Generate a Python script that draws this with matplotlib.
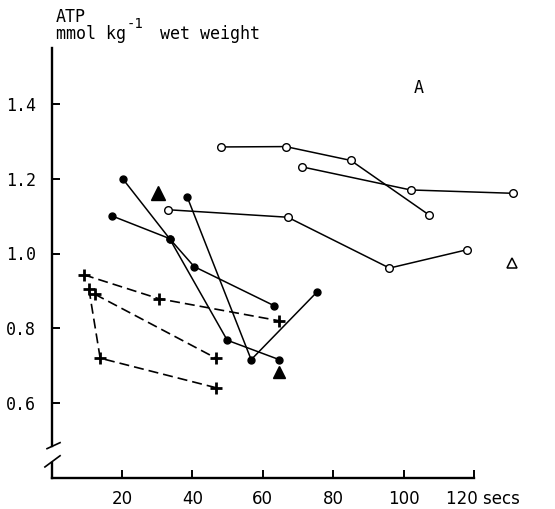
import matplotlib
matplotlib.use("Agg")
import matplotlib.pyplot as plt

# open circles (solid lines)
o1_x = [48.1, 66.5, 85.0, 107.1]
o1_y = [1.285, 1.286, 1.249, 1.104]
o2_x = [71.0, 102.0, 131.2]
o2_y = [1.232, 1.170, 1.161]
o3_x = [33.2, 67.1, 96.0, 118.0]
o3_y = [1.117, 1.097, 0.961, 1.010]

# filled circles (solid lines)
f1_x = [20.2, 33.5, 49.9, 64.7]
f1_y = [1.200, 1.040, 0.768, 0.716]
f2_x = [17.3, 33.5, 40.5, 63.3]
f2_y = [1.100, 1.040, 0.965, 0.860]
f3_x = [38.5, 56.7, 75.5]
f3_y = [1.152, 0.716, 0.898]

# crosses (dashed lines)
c1_x = [9.2, 30.5, 64.7]
c1_y = [0.943, 0.879, 0.820]
c2_x = [10.6, 13.8, 46.7]
c2_y = [0.905, 0.720, 0.641]
c3_x = [12.3, 46.7]
c3_y = [0.891, 0.720]

# single triangles
tri_big = (30.3, 1.161)
tri_small = (64.7, 0.682)
tri_open = (130.7, 0.974)

xticks = [20, 40, 60, 80, 100, 120]
xlabels = ['20', '40', '60', '80', '100', '']
yticks = [0.6, 0.8, 1.0, 1.2, 1.4]

W, H = 555, 509
fig = plt.figure(figsize=(W / 100, H / 100), dpi=100)
ax = fig.add_axes([51.6 / W, 1 - 477.8 / H, 499.8 / W, (477.8 - 29.2) / H])
ax.set_xlim(0, 142)
ax.set_ylim(0.4, 1.6)

lw = 1.1
for xs, ys in [(o1_x, o1_y), (o2_x, o2_y), (o3_x, o3_y)]:
    ax.plot(xs, ys, '-', color='black', lw=lw, marker='o', ms=5.5,
            mfc='white', mec='black', mew=1.0, zorder=3)
for xs, ys in [(f1_x, f1_y), (f2_x, f2_y), (f3_x, f3_y)]:
    ax.plot(xs, ys, '-', color='black', lw=lw, marker='o', ms=5,
            mfc='black', mec='black', zorder=3)
for xs, ys in [(c1_x, c1_y), (c2_x, c2_y), (c3_x, c3_y)]:
    ax.plot(xs, ys, color='black', lw=1.2, linestyle=(0, (6, 3)),
            marker='+', ms=8, mew=2, zorder=3)

ax.plot(*tri_big, marker='^', ms=10, color='black', ls='none')
ax.plot(*tri_small, marker='^', ms=8, color='black', ls='none')
ax.plot(*tri_open, marker='^', ms=7.5, mfc='white', mec='black', mew=1.1, ls='none')

# axes styling
for s in ['top', 'right']:
    ax.spines[s].set_visible(False)
ax.spines['left'].set_bounds(0.485, 1.55)
ax.spines['bottom'].set_bounds(0, 120)
ax.spines['left'].set_linewidth(1.7)
ax.spines['bottom'].set_linewidth(1.7)

ax.set_xticks(xticks)
ax.set_xticklabels(xlabels)
ax.set_yticks(yticks)
ax.set_yticklabels(['%.1f' % v for v in yticks], family='DejaVu Sans Mono')
ax.tick_params(axis='x', direction='in', length=6, width=1.4, pad=9, labelsize=12)
ax.tick_params(axis='y', direction='in', length=6, width=1.4, pad=11, labelsize=12)

# axis break
ax.plot([0, 0], [0.4, 0.44], color='black', lw=1.7, clip_on=False)
ax.plot([-1.3, 2.4], [0.478, 0.494], color='black', lw=1.2, clip_on=False)
ax.plot([-1.9, 2.4], [0.429, 0.459], color='black', lw=1.2, clip_on=False)

# last tick label with unit
ax.annotate('120 secs', xy=(133.1, 0), xycoords=('data', 'axes fraction'),
            xytext=(0, -9), textcoords='offset points',
            ha='right', va='top', fontsize=12)

ax.text(104.2, 1.443, 'A', ha='center', va='center', fontsize=12,
        family='DejaVu Sans Mono')

# y label
mono = 'DejaVu Sans Mono'
fig.text(56 / W, 1 - 22 / H, 'ATP', ha='left', va='baseline', fontsize=12, family=mono)
fig.text(56 / W, 1 - 39 / H, 'mmol kg', ha='left', va='baseline', fontsize=12, family=mono)
fig.text(127 / W, 1 - 28 / H, '-1', ha='left', va='baseline', fontsize=10, family=mono)
fig.text(160 / W, 1 - 39 / H, 'wet weight', ha='left', va='baseline', fontsize=12, family=mono)

fig.savefig('out.png', dpi=100)
